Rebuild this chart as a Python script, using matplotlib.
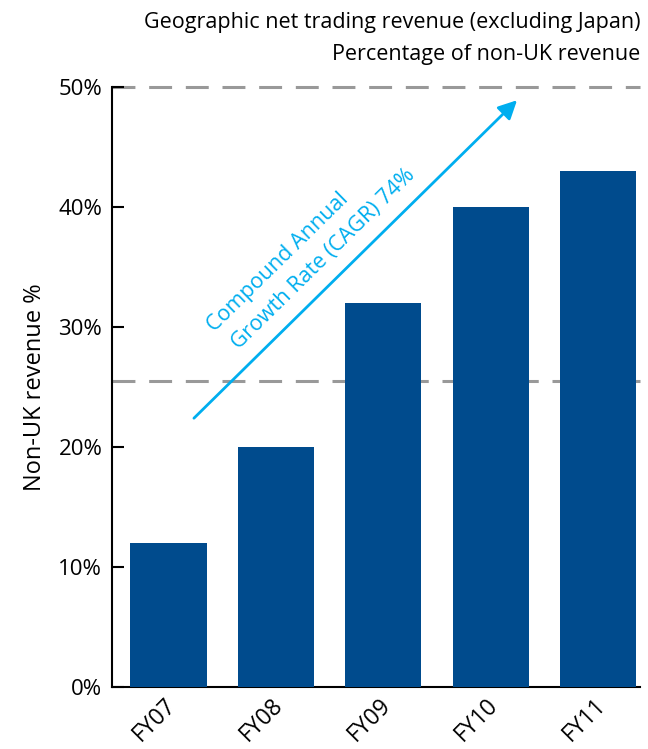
import matplotlib.pyplot as plt
from matplotlib.transforms import ScaledTranslation

plt.rcParams['font.family'] = ['Open Sans', 'DejaVu Sans']

# share of revenue earned outside the UK, by financial year
years = ['FY07', 'FY08', 'FY09', 'FY10', 'FY11']
non_uk_pct = [12, 20, 32, 40, 43]
ref_levels = [25.5, 50]
yticks = [0, 10, 20, 30, 40, 50]
cagr_text = 'Compound Annual\n Growth Rate (CAGR) 74%'

bar_blue = '#004b8d'
arrow_blue = '#00aeef'
dash_grey = '#999999'

fig = plt.figure(figsize=(6.48, 7.49), dpi=100)
ax = fig.add_axes([0.1728, 0.0828, 0.8149, 0.8010])

x = range(len(years))
ax.bar(x, non_uk_pct, width=0.71, color=bar_blue, zorder=3)

for lvl in ref_levels:
    ax.axhline(lvl, color=dash_grey, lw=2.2, linestyle=(0, (7.5, 4.5)),
               zorder=1, clip_on=False)

ax.set_xlim(-0.526, 4.39)
ax.set_ylim(0, 50)
ax.set_xticks(list(x))
ax.set_xticklabels(years, rotation=45, ha='right', va='center',
                   rotation_mode='anchor', fontsize=16.5)
ax.tick_params(axis='x', length=0, pad=11)
# nudge the slanted year labels a little to the right
nudge = ScaledTranslation(0.04, 0, fig.dpi_scale_trans)
for lab in ax.get_xticklabels():
    lab.set_transform(lab.get_transform() + nudge)

ax.set_yticks(yticks)
ax.set_yticklabels([f'{t}%' for t in yticks], fontsize=16)
ax.tick_params(axis='y', direction='in', length=8.5, width=1.5, pad=7)
ax.set_ylabel('Non-UK revenue %', fontsize=17, labelpad=8)

for side in ['top', 'right']:
    ax.spines[side].set_visible(False)
for side in ['left', 'bottom']:
    ax.spines[side].set_linewidth(1.5)

# growth arrow with its label
ax.annotate('', xy=(3.245, 48.9), xytext=(0.237, 22.4),
            arrowprops=dict(arrowstyle='-|>', color=arrow_blue, lw=2,
                            mutation_scale=28, shrinkA=0, shrinkB=0),
            zorder=4)
ax.text(1.33, 36.4, cagr_text, color=arrow_blue, fontsize=15.5,
        rotation=44.5, rotation_mode='anchor', ha='center', va='center',
        multialignment='left', linespacing=1.5)

fig.text(0.9877, 0.9706, 'Geographic net trading revenue (excluding Japan)',
         ha='right', va='center', fontsize=15.5)
fig.text(0.9877, 0.9266, 'Percentage of non-UK revenue',
         ha='right', va='center', fontsize=15.5)

fig.savefig('out.png', dpi=100)
